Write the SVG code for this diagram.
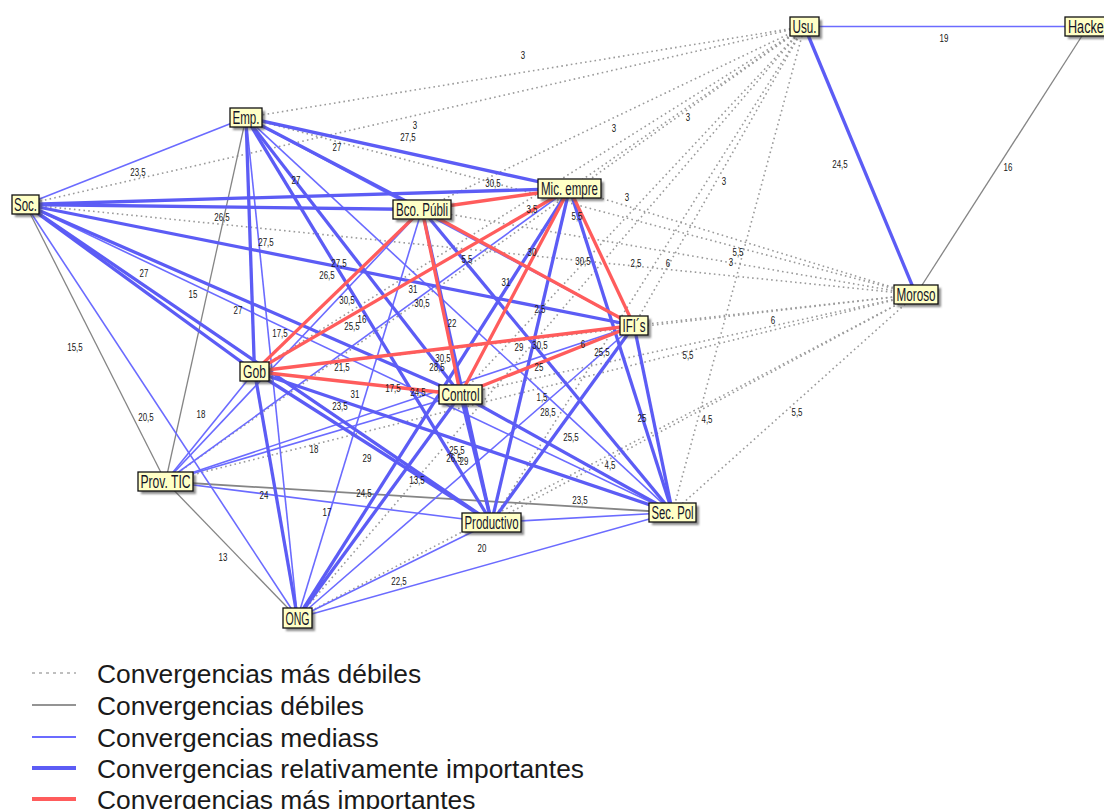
<svg xmlns="http://www.w3.org/2000/svg" width="1104" height="809" viewBox="0 0 1104 809">
  <style>
    .dot  { stroke:#9a9a9a; stroke-width:1.6; stroke-dasharray:1.6 3.2; fill:none; }
    .weak { stroke:#858585; stroke-width:1.3; fill:none; }
    .mid  { stroke:#6b6bff; stroke-width:1.6; fill:none; }
    .imp  { stroke:#5c5cf5; stroke-width:3.3; fill:none; }
    .top  { stroke:#ff5c5c; stroke-width:3.3; fill:none; }
    .box  { fill:#ffffc6; stroke:#111; stroke-width:1.3; }
    .sh   { fill:#3c3c3c; opacity:0.6; }
    .nt   { font-family:"Liberation Sans", Arial, sans-serif; font-size:17.5px; fill:#141428; text-anchor:middle; }
    .el   { font-family:"Liberation Sans", Arial, sans-serif; font-size:10.5px; fill:#161616; text-anchor:middle; }
    .lg   { font-family:"Liberation Sans", Arial, sans-serif; font-size:26.4px; fill:#1a1a1a; }
  </style>
  <defs>
    <filter id="blur" x="-20%" y="-20%" width="140%" height="140%">
      <feGaussianBlur stdDeviation="1.1"/>
    </filter>
  </defs>
  <rect width="1104" height="809" fill="#ffffff"/>

  <!-- connectors, weakest drawn first -->
  <g id="connectors">
    <!-- Usu. and Moroso towards the main actors -->
    <g id="dotted">
      <line class="dot" x1="804.5" y1="26.5" x2="246" y2="117.5"/>
      <line class="dot" x1="804.5" y1="26.5" x2="25.5" y2="204.5"/>
      <line class="dot" x1="804.5" y1="26.5" x2="569.5" y2="188.5"/>
      <line class="dot" x1="804.5" y1="26.5" x2="422" y2="209.5"/>
      <line class="dot" x1="804.5" y1="26.5" x2="634" y2="325.5"/>
      <line class="dot" x1="804.5" y1="26.5" x2="254.5" y2="371.5"/>
      <line class="dot" x1="804.5" y1="26.5" x2="460.5" y2="394.5"/>
      <line class="dot" x1="804.5" y1="26.5" x2="165.5" y2="481.5"/>
      <line class="dot" x1="804.5" y1="26.5" x2="491.5" y2="522.5"/>
      <line class="dot" x1="804.5" y1="26.5" x2="672.5" y2="512.5"/>
      <line class="dot" x1="804.5" y1="26.5" x2="297.5" y2="618"/>
      <line class="dot" x1="916" y1="294.5" x2="246" y2="117.5"/>
      <line class="dot" x1="916" y1="294.5" x2="25.5" y2="204.5"/>
      <line class="dot" x1="916" y1="294.5" x2="569.5" y2="188.5"/>
      <line class="dot" x1="916" y1="294.5" x2="422" y2="209.5"/>
      <line class="dot" x1="916" y1="294.5" x2="634" y2="325.5"/>
      <line class="dot" x1="916" y1="294.5" x2="254.5" y2="371.5"/>
      <line class="dot" x1="916" y1="294.5" x2="460.5" y2="394.5"/>
      <line class="dot" x1="916" y1="294.5" x2="165.5" y2="481.5"/>
      <line class="dot" x1="916" y1="294.5" x2="491.5" y2="522.5"/>
      <line class="dot" x1="916" y1="294.5" x2="672.5" y2="512.5"/>
      <line class="dot" x1="916" y1="294.5" x2="297.5" y2="618"/>
    </g>
    <g id="weak">
      <line class="weak" x1="1088" y1="26.5" x2="916" y2="294.5"/>
      <line class="weak" x1="25.5" y1="204.5" x2="165.5" y2="481.5"/>
      <line class="weak" x1="246" y1="117.5" x2="165.5" y2="481.5"/>
      <line class="weak" x1="165.5" y1="481.5" x2="297.5" y2="618"/>
      <line class="weak" x1="165.5" y1="481.5" x2="672.5" y2="512.5" style="stroke-width:1.8"/>
    </g>
    <g id="medium">
      <line class="mid" x1="804.5" y1="26.5" x2="1088" y2="26.5"/>
      <line class="mid" x1="25.5" y1="204.5" x2="246" y2="117.5"/>
      <line class="mid" x1="25.5" y1="204.5" x2="672.5" y2="512.5"/>
      <line class="mid" x1="25.5" y1="204.5" x2="297.5" y2="618"/>
      <line class="mid" x1="246" y1="117.5" x2="634" y2="325.5"/>
      <line class="mid" x1="246" y1="117.5" x2="672.5" y2="512.5"/>
      <line class="mid" x1="246" y1="117.5" x2="297.5" y2="618"/>
      <line class="mid" x1="569.5" y1="188.5" x2="165.5" y2="481.5"/>
      <line class="mid" x1="422" y1="209.5" x2="297.5" y2="618"/>
      <line class="mid" x1="422" y1="209.5" x2="165.5" y2="481.5"/>
      <line class="mid" x1="634" y1="325.5" x2="297.5" y2="618"/>
      <line class="mid" x1="634" y1="325.5" x2="165.5" y2="481.5"/>
      <line class="mid" x1="254.5" y1="371.5" x2="165.5" y2="481.5"/>
      <line class="mid" x1="460.5" y1="394.5" x2="165.5" y2="481.5"/>
      <line class="mid" x1="491.5" y1="522.5" x2="672.5" y2="512.5"/>
      <line class="mid" x1="491.5" y1="522.5" x2="297.5" y2="618"/>
      <line class="mid" x1="491.5" y1="522.5" x2="165.5" y2="481.5"/>
      <line class="mid" x1="672.5" y1="512.5" x2="297.5" y2="618"/>
    </g>
    <g id="important">
      <line class="imp" x1="804.5" y1="26.5" x2="916" y2="294.5"/>
      <line class="imp" x1="25.5" y1="204.5" x2="569.5" y2="188.5"/>
      <line class="imp" x1="25.5" y1="204.5" x2="422" y2="209.5"/>
      <line class="imp" x1="25.5" y1="204.5" x2="634" y2="325.5"/>
      <line class="imp" x1="25.5" y1="204.5" x2="254.5" y2="371.5"/>
      <line class="imp" x1="25.5" y1="204.5" x2="460.5" y2="394.5"/>
      <line class="imp" x1="25.5" y1="204.5" x2="491.5" y2="522.5"/>
      <line class="imp" x1="246" y1="117.5" x2="569.5" y2="188.5"/>
      <line class="imp" x1="246" y1="117.5" x2="422" y2="209.5"/>
      <line class="imp" x1="246" y1="117.5" x2="254.5" y2="371.5"/>
      <line class="imp" x1="246" y1="117.5" x2="460.5" y2="394.5"/>
      <line class="imp" x1="246" y1="117.5" x2="491.5" y2="522.5"/>
      <line class="imp" x1="569.5" y1="188.5" x2="491.5" y2="522.5"/>
      <line class="imp" x1="569.5" y1="188.5" x2="672.5" y2="512.5"/>
      <line class="imp" x1="569.5" y1="188.5" x2="297.5" y2="618"/>
      <line class="imp" x1="422" y1="209.5" x2="491.5" y2="522.5"/>
      <line class="imp" x1="422" y1="209.5" x2="672.5" y2="512.5"/>
      <line class="imp" x1="634" y1="325.5" x2="491.5" y2="522.5"/>
      <line class="imp" x1="634" y1="325.5" x2="672.5" y2="512.5"/>
      <line class="imp" x1="254.5" y1="371.5" x2="491.5" y2="522.5"/>
      <line class="imp" x1="254.5" y1="371.5" x2="672.5" y2="512.5"/>
      <line class="imp" x1="254.5" y1="371.5" x2="297.5" y2="618"/>
      <line class="imp" x1="460.5" y1="394.5" x2="491.5" y2="522.5"/>
      <line class="imp" x1="460.5" y1="394.5" x2="672.5" y2="512.5"/>
      <line class="imp" x1="460.5" y1="394.5" x2="297.5" y2="618"/>
    </g>
    <g id="strongest">
      <line class="top" x1="569.5" y1="188.5" x2="422" y2="209.5"/>
      <line class="top" x1="569.5" y1="188.5" x2="634" y2="325.5"/>
      <line class="top" x1="569.5" y1="188.5" x2="254.5" y2="371.5"/>
      <line class="top" x1="569.5" y1="188.5" x2="460.5" y2="394.5"/>
      <line class="top" x1="422" y1="209.5" x2="634" y2="325.5"/>
      <line class="top" x1="422" y1="209.5" x2="254.5" y2="371.5"/>
      <line class="top" x1="422" y1="209.5" x2="460.5" y2="394.5"/>
      <line class="top" x1="634" y1="325.5" x2="254.5" y2="371.5"/>
      <line class="top" x1="634" y1="325.5" x2="460.5" y2="394.5"/>
      <line class="top" x1="254.5" y1="371.5" x2="460.5" y2="394.5"/>
    </g>
  </g>

  <!-- connector values -->
  <g id="values">
    <text class="el" x="944" y="41.5" textLength="8.8" lengthAdjust="spacingAndGlyphs">19</text>
    <text class="el" x="840" y="167.5" textLength="15.4" lengthAdjust="spacingAndGlyphs">24,5</text>
    <text class="el" x="1008" y="170.5" textLength="8.8" lengthAdjust="spacingAndGlyphs">16</text>
    <text class="el" x="523" y="58.5" textLength="4.4" lengthAdjust="spacingAndGlyphs">3</text>
    <text class="el" x="415" y="128.5" textLength="4.4" lengthAdjust="spacingAndGlyphs">3</text>
    <text class="el" x="688" y="120.5" textLength="4.4" lengthAdjust="spacingAndGlyphs">3</text>
    <text class="el" x="614" y="131.5" textLength="4.4" lengthAdjust="spacingAndGlyphs">3</text>
    <text class="el" x="724" y="184.5" textLength="4.4" lengthAdjust="spacingAndGlyphs">3</text>
    <text class="el" x="532" y="212.5" textLength="11" lengthAdjust="spacingAndGlyphs">3,5</text>
    <text class="el" x="627" y="200.5" textLength="4.4" lengthAdjust="spacingAndGlyphs">3</text>
    <text class="el" x="636" y="266.5" textLength="11" lengthAdjust="spacingAndGlyphs">2,5</text>
    <text class="el" x="731" y="265.5" textLength="4.4" lengthAdjust="spacingAndGlyphs">3</text>
    <text class="el" x="540" y="312.5" textLength="11" lengthAdjust="spacingAndGlyphs">2,5</text>
    <text class="el" x="577" y="219.5" textLength="11" lengthAdjust="spacingAndGlyphs">5,5</text>
    <text class="el" x="467" y="262.5" textLength="11" lengthAdjust="spacingAndGlyphs">5,5</text>
    <text class="el" x="738" y="255.5" textLength="11" lengthAdjust="spacingAndGlyphs">5,5</text>
    <text class="el" x="668" y="266.5" textLength="4.4" lengthAdjust="spacingAndGlyphs">6</text>
    <text class="el" x="773" y="323.5" textLength="4.4" lengthAdjust="spacingAndGlyphs">6</text>
    <text class="el" x="583" y="347.5" textLength="4.4" lengthAdjust="spacingAndGlyphs">6</text>
    <text class="el" x="688" y="358.5" textLength="11" lengthAdjust="spacingAndGlyphs">5,5</text>
    <text class="el" x="542" y="400.5" textLength="11" lengthAdjust="spacingAndGlyphs">1,5</text>
    <text class="el" x="707" y="422.5" textLength="11" lengthAdjust="spacingAndGlyphs">4,5</text>
    <text class="el" x="797" y="415.5" textLength="11" lengthAdjust="spacingAndGlyphs">5,5</text>
    <text class="el" x="610" y="468.5" textLength="11" lengthAdjust="spacingAndGlyphs">4,5</text>

    <text class="el" x="138" y="175.5" textLength="15.4" lengthAdjust="spacingAndGlyphs">23,5</text>
    <text class="el" x="337" y="150.5" textLength="8.8" lengthAdjust="spacingAndGlyphs">27</text>
    <text class="el" x="408" y="140.5" textLength="15.4" lengthAdjust="spacingAndGlyphs">27,5</text>
    <text class="el" x="493" y="186.5" textLength="15.4" lengthAdjust="spacingAndGlyphs">30,5</text>
    <text class="el" x="296" y="183.5" textLength="8.8" lengthAdjust="spacingAndGlyphs">27</text>
    <text class="el" x="222" y="220.5" textLength="15.4" lengthAdjust="spacingAndGlyphs">26,5</text>
    <text class="el" x="266" y="245.5" textLength="15.4" lengthAdjust="spacingAndGlyphs">27,5</text>
    <text class="el" x="144" y="276.5" textLength="8.8" lengthAdjust="spacingAndGlyphs">27</text>
    <text class="el" x="193" y="297.5" textLength="8.8" lengthAdjust="spacingAndGlyphs">15</text>
    <text class="el" x="238" y="313.5" textLength="8.8" lengthAdjust="spacingAndGlyphs">27</text>
    <text class="el" x="75" y="350.5" textLength="15.4" lengthAdjust="spacingAndGlyphs">15,5</text>
    <text class="el" x="146" y="420.5" textLength="15.4" lengthAdjust="spacingAndGlyphs">20,5</text>
    <text class="el" x="339" y="266.5" textLength="15.4" lengthAdjust="spacingAndGlyphs">27,5</text>
    <text class="el" x="327" y="278.5" textLength="15.4" lengthAdjust="spacingAndGlyphs">26,5</text>
    <text class="el" x="347" y="303.5" textLength="15.4" lengthAdjust="spacingAndGlyphs">30,5</text>
    <text class="el" x="413" y="292.5" textLength="8.8" lengthAdjust="spacingAndGlyphs">31</text>
    <text class="el" x="422" y="306.5" textLength="15.4" lengthAdjust="spacingAndGlyphs">30,5</text>
    <text class="el" x="452" y="326.5" textLength="8.8" lengthAdjust="spacingAndGlyphs">22</text>
    <text class="el" x="280" y="336.5" textLength="15.4" lengthAdjust="spacingAndGlyphs">17,5</text>
    <text class="el" x="352" y="329.5" textLength="15.4" lengthAdjust="spacingAndGlyphs">25,5</text>
    <text class="el" x="362" y="322.5" textLength="8.8" lengthAdjust="spacingAndGlyphs">16</text>
    <text class="el" x="342" y="370.5" textLength="15.4" lengthAdjust="spacingAndGlyphs">21,5</text>
    <text class="el" x="443" y="361.5" textLength="15.4" lengthAdjust="spacingAndGlyphs">30,5</text>
    <text class="el" x="437" y="370.5" textLength="15.4" lengthAdjust="spacingAndGlyphs">28,5</text>
    <text class="el" x="355" y="397.5" textLength="8.8" lengthAdjust="spacingAndGlyphs">31</text>
    <text class="el" x="393" y="391.5" textLength="15.4" lengthAdjust="spacingAndGlyphs">17,5</text>
    <text class="el" x="418" y="395.5" textLength="15.4" lengthAdjust="spacingAndGlyphs">24,5</text>
    <text class="el" x="340" y="409.5" textLength="15.4" lengthAdjust="spacingAndGlyphs">23,5</text>
    <text class="el" x="314" y="452.5" textLength="8.8" lengthAdjust="spacingAndGlyphs">18</text>
    <text class="el" x="367" y="461.5" textLength="8.8" lengthAdjust="spacingAndGlyphs">29</text>
    <text class="el" x="457" y="453.5" textLength="15.4" lengthAdjust="spacingAndGlyphs">25,5</text>
    <text class="el" x="454" y="461.5" textLength="15.4" lengthAdjust="spacingAndGlyphs">26,5</text>
    <text class="el" x="464" y="464.5" textLength="8.8" lengthAdjust="spacingAndGlyphs">29</text>
    <text class="el" x="201" y="417.5" textLength="8.8" lengthAdjust="spacingAndGlyphs">18</text>
    <text class="el" x="506" y="285.5" textLength="8.8" lengthAdjust="spacingAndGlyphs">31</text>
    <text class="el" x="519" y="350.5" textLength="8.8" lengthAdjust="spacingAndGlyphs">29</text>
    <text class="el" x="540" y="348.5" textLength="15.4" lengthAdjust="spacingAndGlyphs">30,5</text>
    <text class="el" x="539" y="370.5" textLength="8.8" lengthAdjust="spacingAndGlyphs">25</text>
    <text class="el" x="602" y="355.5" textLength="15.4" lengthAdjust="spacingAndGlyphs">25,5</text>
    <text class="el" x="548" y="415.5" textLength="15.4" lengthAdjust="spacingAndGlyphs">28,5</text>
    <text class="el" x="571" y="440.5" textLength="15.4" lengthAdjust="spacingAndGlyphs">25,5</text>
    <text class="el" x="642" y="421.5" textLength="8.8" lengthAdjust="spacingAndGlyphs">25</text>
    <text class="el" x="532" y="255.5" textLength="8.8" lengthAdjust="spacingAndGlyphs">30</text>
    <text class="el" x="583" y="264.5" textLength="15.4" lengthAdjust="spacingAndGlyphs">30,5</text>
    <text class="el" x="417" y="483.5" textLength="15.4" lengthAdjust="spacingAndGlyphs">13,5</text>
    <text class="el" x="364" y="496.5" textLength="15.4" lengthAdjust="spacingAndGlyphs">24,5</text>
    <text class="el" x="264" y="498.5" textLength="8.8" lengthAdjust="spacingAndGlyphs">24</text>
    <text class="el" x="327" y="515.5" textLength="8.8" lengthAdjust="spacingAndGlyphs">17</text>
    <text class="el" x="223" y="560.5" textLength="8.8" lengthAdjust="spacingAndGlyphs">13</text>
    <text class="el" x="399" y="584.5" textLength="15.4" lengthAdjust="spacingAndGlyphs">22,5</text>
    <text class="el" x="580" y="503.5" textLength="15.4" lengthAdjust="spacingAndGlyphs">23,5</text>
    <text class="el" x="482" y="551.5" textLength="8.8" lengthAdjust="spacingAndGlyphs">20</text>
  </g>

  <!-- actors -->
  <g id="node-usu">
    <rect class="sh" x="793" y="20" width="29" height="19" filter="url(#blur)"/>
    <rect class="box" x="790" y="17" width="29" height="19"/>
    <text class="nt" x="804.5" y="32.5" textLength="24" lengthAdjust="spacingAndGlyphs">Usu.</text>
  </g>
  <g id="node-hacker">
    <rect class="sh" x="1068" y="20" width="47" height="19" filter="url(#blur)"/>
    <rect class="box" x="1065" y="17" width="47" height="19"/>
    <text class="nt" x="1088" y="32.5" textLength="40" lengthAdjust="spacingAndGlyphs">Hacker</text>
  </g>
  <g id="node-emp">
    <rect class="sh" x="233" y="111" width="32" height="19" filter="url(#blur)"/>
    <rect class="box" x="230" y="108" width="32" height="19"/>
    <text class="nt" x="246" y="123.5" textLength="27" lengthAdjust="spacingAndGlyphs">Emp.</text>
  </g>
  <g id="node-soc">
    <rect class="sh" x="15" y="198" width="27" height="19" filter="url(#blur)"/>
    <rect class="box" x="12" y="195" width="27" height="19"/>
    <text class="nt" x="25.5" y="210.5" textLength="23" lengthAdjust="spacingAndGlyphs">Soc.</text>
  </g>
  <g id="node-mic">
    <rect class="sh" x="541" y="182" width="63" height="19" filter="url(#blur)"/>
    <rect class="box" x="538" y="179" width="63" height="19"/>
    <text class="nt" x="569.5" y="194.5" textLength="57" lengthAdjust="spacingAndGlyphs">Mic. empre</text>
  </g>
  <g id="node-bco">
    <rect class="sh" x="396" y="203" width="58" height="19" filter="url(#blur)"/>
    <rect class="box" x="393" y="200" width="58" height="19"/>
    <text class="nt" x="422" y="215.5" textLength="52" lengthAdjust="spacingAndGlyphs">Bco. Públi</text>
  </g>
  <g id="node-moroso">
    <rect class="sh" x="897" y="288" width="44" height="19" filter="url(#blur)"/>
    <rect class="box" x="894" y="285" width="44" height="19"/>
    <text class="nt" x="916" y="300.5" textLength="39" lengthAdjust="spacingAndGlyphs">Moroso</text>
  </g>
  <g id="node-ifi">
    <rect class="sh" x="623" y="319" width="28" height="19" filter="url(#blur)"/>
    <rect class="box" x="620" y="316" width="28" height="19"/>
    <text class="nt" x="634" y="331.5" textLength="23" lengthAdjust="spacingAndGlyphs">IFI´s</text>
  </g>
  <g id="node-gob">
    <rect class="sh" x="243" y="365" width="29" height="19" filter="url(#blur)"/>
    <rect class="box" x="240" y="362" width="29" height="19"/>
    <text class="nt" x="254.5" y="377.5" textLength="23" lengthAdjust="spacingAndGlyphs">Gob</text>
  </g>
  <g id="node-control">
    <rect class="sh" x="442" y="388" width="43" height="19" filter="url(#blur)"/>
    <rect class="box" x="439" y="385" width="43" height="19"/>
    <text class="nt" x="460.5" y="400.5" textLength="38" lengthAdjust="spacingAndGlyphs">Control</text>
  </g>
  <g id="node-provtic">
    <rect class="sh" x="141" y="475" width="55" height="19" filter="url(#blur)"/>
    <rect class="box" x="138" y="472" width="55" height="19"/>
    <text class="nt" x="165.5" y="487.5" textLength="50" lengthAdjust="spacingAndGlyphs">Prov. TIC</text>
  </g>
  <g id="node-productivo">
    <rect class="sh" x="465" y="516" width="59" height="19" filter="url(#blur)"/>
    <rect class="box" x="462" y="513" width="59" height="19"/>
    <text class="nt" x="491.5" y="528.5" textLength="54" lengthAdjust="spacingAndGlyphs">Productivo</text>
  </g>
  <g id="node-secpol">
    <rect class="sh" x="652" y="506" width="47" height="19" filter="url(#blur)"/>
    <rect class="box" x="649" y="503" width="47" height="19"/>
    <text class="nt" x="672.5" y="518.5" textLength="42" lengthAdjust="spacingAndGlyphs">Sec. Pol</text>
  </g>
  <g id="node-ong">
    <rect class="sh" x="286" y="611" width="29" height="20" filter="url(#blur)"/>
    <rect class="box" x="283" y="608" width="29" height="20"/>
    <text class="nt" x="297.5" y="624.5" textLength="24" lengthAdjust="spacingAndGlyphs">ONG</text>
  </g>

  <!-- legend -->
  <g id="legend">
    <line x1="32" y1="673" x2="76" y2="673" stroke="#aaaaaa" stroke-width="1.5" stroke-dasharray="3 4"/>
    <line x1="32" y1="705" x2="76" y2="705" stroke="#707070" stroke-width="1.6"/>
    <line x1="32" y1="737" x2="76" y2="737" stroke="#6b6bff" stroke-width="2"/>
    <line x1="32" y1="768" x2="76" y2="768" stroke="#5c5cf5" stroke-width="4"/>
    <line x1="32" y1="799" x2="76" y2="799" stroke="#ff5c5c" stroke-width="4"/>
    <text class="lg" x="97" y="682.5">Convergencias más débiles</text>
    <text class="lg" x="97" y="714.5">Convergencias débiles</text>
    <text class="lg" x="97" y="746.5">Convergencias mediass</text>
    <text class="lg" x="97" y="777.5">Convergencias relativamente importantes</text>
    <text class="lg" x="97" y="808.5">Convergencias más importantes</text>
  </g>
</svg>
